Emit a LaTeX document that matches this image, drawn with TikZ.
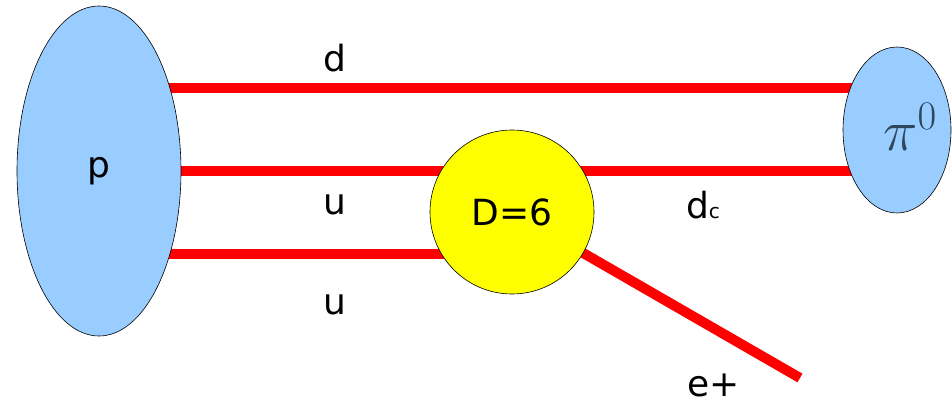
\documentclass[tikz,border=0pt]{standalone}
\usepackage{fix-cm}
\usepackage{fontspec}
\setmainfont{DejaVu Sans}
\usetikzlibrary{shapes.geometric}
\pgfdeclarelayer{background}
\pgfsetlayers{background,main}
\definecolor{hadron}{RGB}{153,204,255}
\definecolor{vertex}{RGB}{255,255,0}
\definecolor{pion}{RGB}{45,70,92}

\begin{document}
\begin{tikzpicture}[x=1pt,y=-1pt]
  \tikzset{hadron blob/.style={draw,ellipse,fill=hadron,inner sep=0pt,line width=0.6pt},
           quark line/.style={draw=red,line width=10pt},
           big label/.style={font=\fontsize{36}{40}\selectfont}}
  \useasboundingbox (0,0) rectangle (952,404);

  \node [hadron blob,minimum width=164pt,minimum height=330pt,big label] (p) at (99,171) {p};
  \node [hadron blob,minimum width=108pt,minimum height=166pt] (pi) at (897,130) {};
  \node [draw,circle,fill=vertex,minimum size=164pt,inner sep=0pt,line width=0.6pt,big label] (D) at (512,212) {D=6};

  \coordinate (dlev) at (0,88);
  \coordinate (ulev) at (0,171);
  \coordinate (ulev2) at (0,254);
  \coordinate (eend) at (800,378);

  \begin{pgfonlayer}{background}
    \draw [quark line] (p.center |- dlev) -- (pi.center |- dlev);
    \draw [quark line] (p.center |- ulev) -- (pi.center |- ulev);
    \draw [quark line] (p.center |- ulev2) -- (D.center |- ulev2);
    \draw [quark line] (D.center) -- (eend);
  \end{pgfonlayer}

  \node [text=pion,font=\fontsize{58}{62}\selectfont,inner sep=0pt] (pilab) at (910,127) {$\pi^0$};
  \node [big label] (dlab) at (335,58) {d};
  \node [big label] (ulab) at (335,205) {u};
  \node [big label] (ulab2) at (335,305) {u};
  \node [big label] (dclab) at (703,205) {d{\fontsize{20}{22}\selectfont c}};
  \node [big label] (elab) at (714,385) {e+};
\end{tikzpicture}
\end{document}
